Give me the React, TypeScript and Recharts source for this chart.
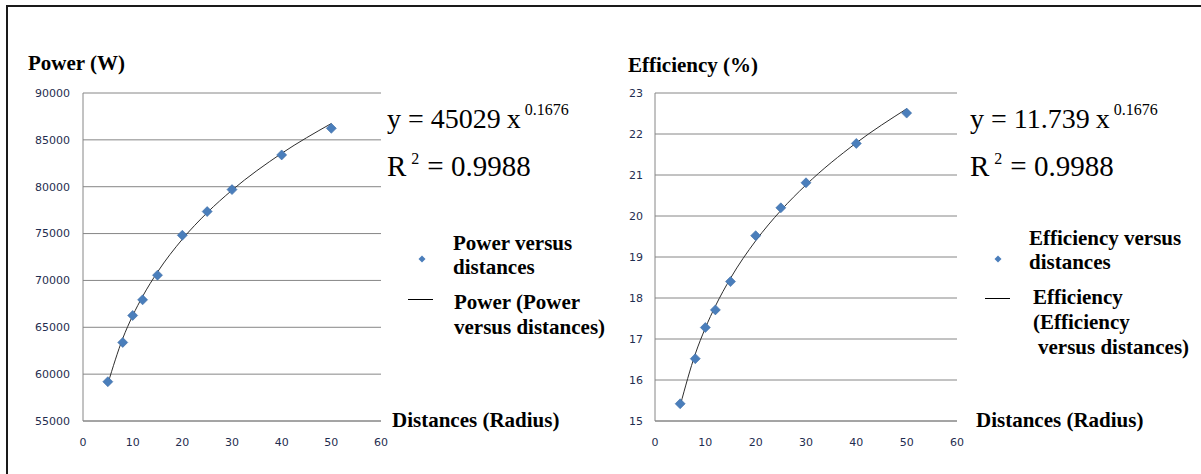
import React from 'react';
import { ComposedChart, Scatter, Line, XAxis, YAxis, CartesianGrid } from 'recharts';

// Measured distances (radius) and the two quantities recorded at each one
const distances = [5, 8, 10, 12, 15, 20, 25, 30, 40, 50];
const powerValues = [59190, 63380, 66260, 67930, 70560, 74820, 77350, 79690, 83390, 86230];
const efficiencyValues = [15.42, 16.52, 17.28, 17.71, 18.4, 19.52, 20.2, 20.81, 21.77, 22.51];

// Power-law trend lines, y = a * x^b
const powerFitA = 45029;
const powerFitB = 0.1676;
const powerFitR2 = 0.9988;
const efficiencyFitA = 11.739;
const efficiencyFitB = 0.1676;
const efficiencyFitR2 = 0.9988;

const xTicks = [0, 10, 20, 30, 40, 50, 60];
const powerTicks = [55000, 60000, 65000, 70000, 75000, 80000, 85000, 90000];
const efficiencyTicks = [15, 16, 17, 18, 19, 20, 21, 22, 23];

const GRID = '#868686';
const TICK = { fill: '#1f2d50', fontSize: 11, fontFamily: 'DejaVu Sans' };
const SERIF = "'Liberation Serif', 'DejaVu Serif', serif";

const Diamond = (props: any) => {
  const { cx, cy } = props;
  if (cx == null || cy == null) return null;
  const r = 5;
  return (
    <path
      d={`M${cx},${cy - r}L${cx + r},${cy}L${cx},${cy + r}L${cx - r},${cy}Z`}
      fill="#4A7EBB"
      stroke="#3E6DA6"
      strokeWidth={0.6}
    />
  );
};

type FitChartProps = {
  values: number[];
  fitA: number;
  fitB: number;
  yDomain: [number, number];
  yTicks: number[];
  yAxisWidth: number;
  marginLeft: number;
  marginRight: number;
  yTickMargin: number;
};

const FitChart: React.FC<FitChartProps> = ({
  values, fitA, fitB, yDomain, yTicks, yAxisWidth, marginLeft, marginRight, yTickMargin,
}) => {
  const points = distances.map((x, i) => ({ x, y: values[i] }));
  const trend = distances.map((x) => ({ x, y: fitA * Math.pow(x, fitB) }));

  return (
    <ComposedChart
      width={400}
      height={474}
      margin={{ top: 93, right: marginRight, bottom: 23, left: marginLeft }}
    >
      <CartesianGrid vertical={false} stroke={GRID} strokeWidth={1} />
      <XAxis
        type="number"
        dataKey="x"
        domain={[0, 60]}
        ticks={xTicks}
        interval={0}
        height={30}
        axisLine={{ stroke: GRID }}
        tickLine={false}
        tickSize={0}
        tickMargin={17}
        tick={TICK}
      />
      <YAxis
        type="number"
        domain={yDomain}
        ticks={yTicks}
        interval={0}
        width={yAxisWidth}
        axisLine={{ stroke: GRID }}
        tickLine={false}
        tickSize={0}
        tickMargin={yTickMargin}
        tick={TICK}
        allowDataOverflow
      />
      <Scatter data={points} dataKey="y" shape={<Diamond />} isAnimationActive={false} />
      <Line
        data={trend}
        dataKey="y"
        type="monotone"
        stroke="#2E2E2E"
        strokeWidth={1}
        dot={false}
        activeDot={false}
        isAnimationActive={false}
      />
    </ComposedChart>
  );
};

const bold: React.CSSProperties = { fontFamily: SERIF, fontWeight: 700, fontSize: 21, fill: '#000' };
const plain: React.CSSProperties = { fontFamily: SERIF, fontWeight: 400, fill: '#000' };

const Equation: React.FC<{ x: number; a: number; b: number; r2: number }> = ({ x, a, b, r2 }) => (
  <g>
    <text x={x} y={128} style={{ ...plain, fontSize: 28 }}>
      {`y = ${a}`}
      <tspan dx={6}>x</tspan>
      <tspan dx={4} dy={-13} style={{ fontSize: 16 }}>{String(b)}</tspan>
    </text>
    <text x={x} y={176} style={{ ...plain, fontSize: 29 }}>
      R
      <tspan dx={5} dy={-12} style={{ fontSize: 16 }}>2</tspan>
      <tspan dx={8} dy={12}>{`= ${r2}`}</tspan>
    </text>
  </g>
);

const LegendMarker: React.FC<{ cx: number; cy: number }> = ({ cx, cy }) => (
  <path d={`M${cx},${cy - 3.5}L${cx + 3.5},${cy}L${cx},${cy + 3.5}L${cx - 3.5},${cy}Z`} fill="#4A7EBB" />
);

export default function App() {
  return (
    <div
      style={{
        position: 'absolute',
        left: 0,
        top: 0,
        width: 1201,
        height: 474,
        background: '#fff',
        overflow: 'hidden',
      }}
    >
      <div style={{ position: 'absolute', left: 0, top: 0 }}>
        <FitChart
          values={powerValues}
          fitA={powerFitA}
          fitB={powerFitB}
          yDomain={[55000, 90000]}
          yTicks={powerTicks}
          yAxisWidth={60}
          marginLeft={23}
          marginRight={19}
          yTickMargin={13}
        />
      </div>
      <div style={{ position: 'absolute', left: 600, top: 0 }}>
        <FitChart
          values={efficiencyValues}
          fitA={efficiencyFitA}
          fitB={efficiencyFitB}
          yDomain={[15, 23]}
          yTicks={efficiencyTicks}
          yAxisWidth={40}
          marginLeft={15}
          marginRight={43}
          yTickMargin={12}
        />
      </div>

      <svg
        width={1201}
        height={474}
        style={{ position: 'absolute', left: 0, top: 0, pointerEvents: 'none' }}
      >
        {/* frame */}
        <rect x={6} y={5} width={1195} height={2} fill="#1a1a1a" />
        <rect x={6} y={5} width={2} height={469} fill="#1a1a1a" />

        {/* power panel */}
        <text x={28} y={70} style={bold}>Power (W)</text>
        <Equation x={387} a={powerFitA} b={powerFitB} r2={powerFitR2} />
        <LegendMarker cx={422} cy={259} />
        <text x={453} y={250} style={bold}>Power versus</text>
        <text x={453} y={274} style={bold}>distances</text>
        <line x1={408} x2={433} y1={299.5} y2={299.5} stroke="#000" strokeWidth={1} />
        <text x={454} y={309} style={bold}>Power (Power</text>
        <text x={454} y={334} style={bold}>versus distances)</text>
        <text x={392} y={427} style={bold}>Distances (Radius)</text>

        {/* efficiency panel */}
        <text x={628} y={72} style={bold}>Efficiency (%)</text>
        <Equation x={970} a={efficiencyFitA} b={efficiencyFitB} r2={efficiencyFitR2} />
        <LegendMarker cx={998} cy={259} />
        <text x={1029} y={245} style={bold}>Efficiency versus</text>
        <text x={1029} y={269} style={bold}>distances</text>
        <line x1={985} x2={1010} y1={298.5} y2={298.5} stroke="#000" strokeWidth={1} />
        <text x={1033} y={304} style={bold}>Efficiency</text>
        <text x={1033} y={329} style={bold}>(Efficiency</text>
        <text x={1038} y={354} style={bold}>versus distances)</text>
        <text x={976} y={427} style={bold}>Distances (Radius)</text>
      </svg>
    </div>
  );
}
